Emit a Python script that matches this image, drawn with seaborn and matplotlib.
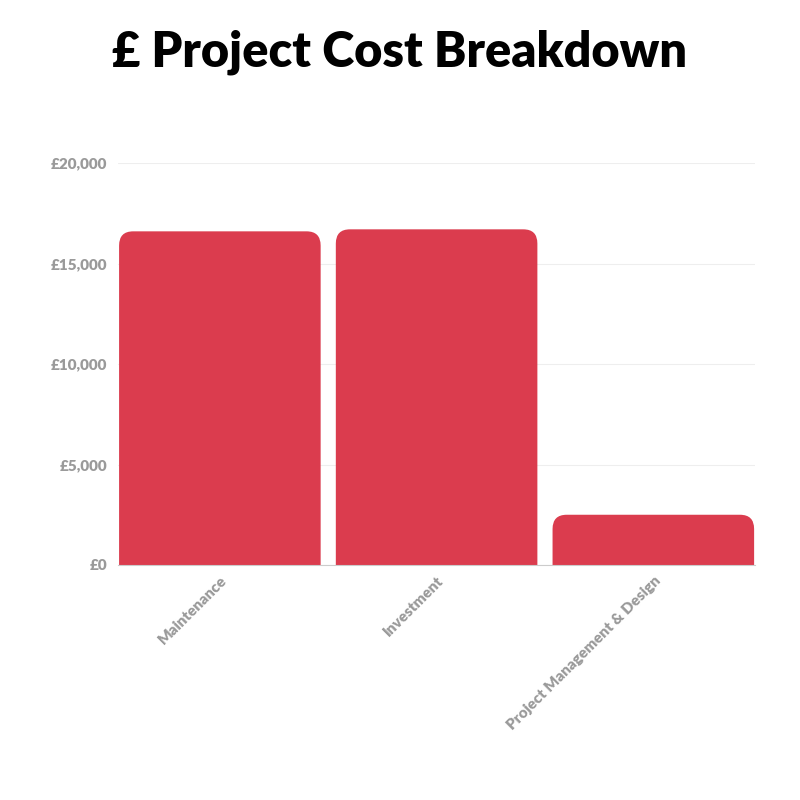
import numpy as np
import pandas as pd
import matplotlib
matplotlib.use("Agg")
import matplotlib.pyplot as plt
import seaborn as sns
from matplotlib.patches import FancyBboxPatch
from matplotlib.ticker import FuncFormatter, MultipleLocator

categories = ["Maintenance", "Investment", "Project Management & Design"]
costs = [16600, 16700, 2500]

bar_color = "#DB3C4E"
label_grey = "#9A9A9A"

sns.set_theme(style="white")
plt.rcParams['font.family'] = ['Lato', 'DejaVu Sans']

df = pd.DataFrame({"Category": categories, "Cost": costs})

fig = plt.figure(figsize=(8, 8), dpi=100)
ax = fig.add_axes([0.1475, 0.29375, 0.7965, 0.5025])

sns.barplot(data=df, x="Category", y="Cost", color=bar_color, width=0.93,
            saturation=1, ax=ax, zorder=3)

ax.set_xlim(-0.47, 2.47)
ax.set_ylim(0, 20000)

# swap the square bars for ones with rounded top corners
r = 0.065
aspect = 10850
for p in list(ax.patches):
    x, w, h = p.get_x(), p.get_width(), p.get_height()
    p.remove()
    rb = FancyBboxPatch((x, -1500), w, h + 1500,
                        boxstyle=f"round,pad=0,rounding_size={r}",
                        mutation_aspect=aspect, facecolor=bar_color,
                        edgecolor="none", zorder=3)
    ax.add_patch(rb)

ax.yaxis.set_major_locator(MultipleLocator(5000))
ax.yaxis.set_major_formatter(FuncFormatter(lambda v, _: f"£{int(v):,}"))
ax.grid(axis="y", color="#EEEEEE", linewidth=0.8, zorder=0)
ax.set_axisbelow(True)

for s in ["top", "right", "left"]:
    ax.spines[s].set_visible(False)
ax.spines["bottom"].set_color("#CCCCCC")
ax.spines["bottom"].set_linewidth(0.8)
ax.spines["bottom"].set_zorder(4)

ax.tick_params(axis="both", length=0, colors=label_grey)
ax.tick_params(axis="y", pad=8)
ax.tick_params(axis="x", pad=6)
for t in ax.get_yticklabels():
    t.set_fontsize(11)
    t.set_fontweight("heavy")
    t.set_color(label_grey)
ax.set_xticks(range(len(categories)))
ax.set_xticklabels(categories, rotation=45, ha="right", rotation_mode="anchor",
                   fontsize=11, fontweight="heavy", color=label_grey)
ax.set_xlabel("")
ax.set_ylabel("")

fig.text(0.5, 0.935, "£ Project Cost Breakdown", ha="center", va="center",
         fontsize=35, fontweight="heavy", color="black")

fig.savefig("out.png", dpi=100, facecolor="white")
